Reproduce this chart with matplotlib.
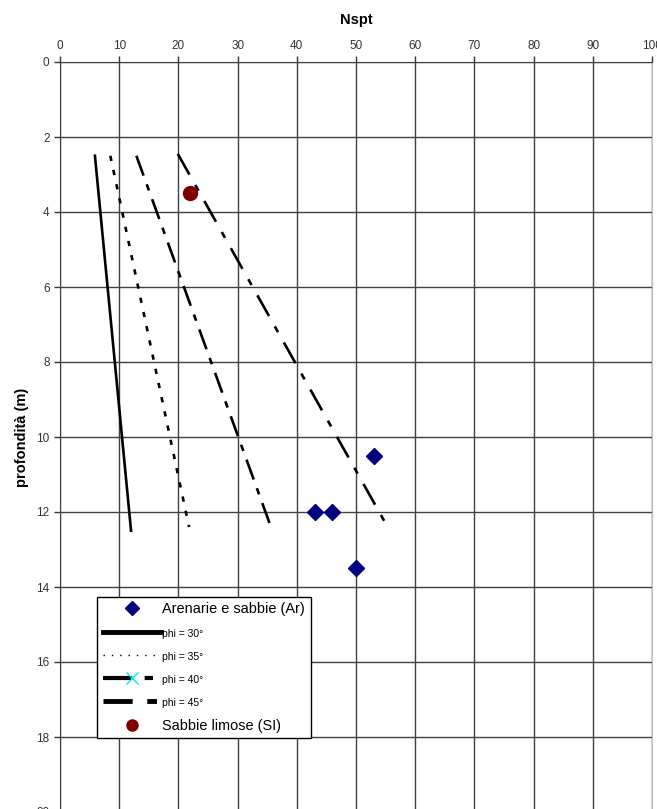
import matplotlib
matplotlib.use('Agg')
import matplotlib.pyplot as plt
from matplotlib.lines import Line2D

plt.rcParams['font.family'] = ['Liberation Sans', 'DejaVu Sans']

# Data (Nspt vs depth)
ar_nspt = [53, 43, 46, 50]
ar_depth = [10.5, 12.0, 12.0, 13.5]

sl_nspt = [22]
sl_depth = [3.5]

phi30_nspt = [5.9, 12.0]
phi30_depth = [2.5, 12.5]
phi35_nspt = [8.5, 21.8]
phi35_depth = [2.5, 12.4]
phi40_nspt = [12.9, 35.4]
phi40_depth = [2.5, 12.3]
phi45_nspt = [19.9, 55.7]
phi45_depth = [2.45, 12.5]

x_ticks = list(range(0, 101, 10))
y_ticks = list(range(0, 21, 2))

fig = plt.figure(figsize=(6.57, 8.09), dpi=100)
ax = fig.add_axes([60 / 657, -3 / 809, 592 / 657, 750 / 809])

# Curves
ax.plot(phi30_nspt, phi30_depth, color='black', lw=1.9, linestyle='-', zorder=3)
ax.plot(phi35_nspt, phi35_depth, color='black', lw=1.9, linestyle=(0, (2, 3.5)), zorder=3)
ax.plot(phi40_nspt, phi40_depth, color='black', lw=1.9, linestyle=(0, (8, 3.5, 2.5, 3.5)), zorder=3)
ax.plot(phi45_nspt, phi45_depth, color='black', lw=1.9, linestyle=(0, (9, 4.5, 2.5, 4.5)), zorder=3)

# Points
ax.plot(ar_nspt, ar_depth, linestyle='none', marker='D', markersize=8,
        color='#000080', zorder=4)
ax.plot(sl_nspt, sl_depth, linestyle='none', marker='o', markersize=10,
        color='#800000', zorder=4)

# Axes
ax.set_xlim(0, 100)
ax.set_ylim(20, 0)
ax.set_xticks(x_ticks)
ax.set_yticks(y_ticks)
ax.xaxis.tick_top()
ax.xaxis.set_label_position('top')
ax.tick_params(axis='both', labelsize=8.5, labelcolor='#333333', color='#333333',
               length=4, width=1, direction='out')
ax.tick_params(axis='x', pad=3)
ax.grid(True, color='#404040', lw=1)
ax.set_axisbelow(True)
for side in ['top', 'left']:
    ax.spines[side].set_color('#404040')
ax.spines['right'].set_color('#bbbbbb')
ax.spines['bottom'].set_visible(False)

ax.set_xlabel('Nspt', fontsize=10.5, fontweight='bold', labelpad=12)
ax.set_ylabel('profondità (m)', fontsize=10.5, fontweight='bold', labelpad=5)

# Legend
handles = [
    Line2D([], [], linestyle='none', marker='D', markersize=7, color='#000080'),
    Line2D([], [], color='black', lw=3.5, linestyle='-'),
    Line2D([], [], color='black', lw=1, linestyle=(0, (1, 5))),
    Line2D([], [], color='black', lw=3, linestyle=(0, (7, 3, 2, 3)),
           marker='x', markeredgecolor='#00e5ff', markersize=8, markevery=[1]),
    Line2D([], [], color='black', lw=3.5, linestyle=(0, (6, 3, 2, 10))),
    Line2D([], [], linestyle='none', marker='o', markersize=8, color='#800000'),
]
labels = ['Arenarie e sabbie (Ar)', 'phi = 30°', 'phi = 35°', 'phi = 40°',
          'phi = 45°', 'Sabbie limose (SI)']
leg = ax.legend(handles, labels, loc='upper left', bbox_to_anchor=(0.0625, 0.287),
                borderaxespad=0, fancybox=False, framealpha=1, edgecolor='black',
                handlelength=4.0, handletextpad=0.12, labelspacing=0.74,
                borderpad=0.38, fontsize=10.45)
leg.get_frame().set_linewidth(1)
for t in leg.get_texts()[1:5]:
    t.set_fontsize(7.5)

fig.savefig('out.png', dpi=100)
